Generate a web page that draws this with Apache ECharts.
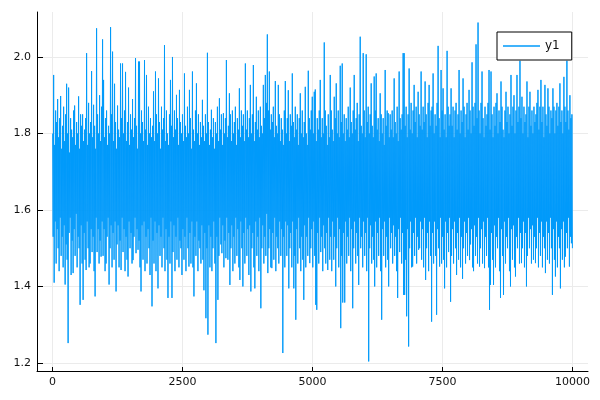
<!DOCTYPE html>
<html><head><meta charset="utf-8">
<script src="https://cdn.jsdelivr.net/npm/echarts@6/dist/echarts.min.js"></script>
<style>html,body{margin:0;padding:0;background:#fff}#c{width:600px;height:400px}</style>
</head><body><div id="c"></div>
<script>
const seriesName = 'y1';
const xTicks = [0, 2500, 5000, 7500, 10000];
const yTicks = [1.2, 1.4, 1.6, 1.8, 2.0];
const xFirst = 1, xLast = 10000;
// upper envelope of the noisy line, one value per pixel column
const hi = [
1.80,1.953,1.77,1.86,1.83,1.89,1.79,1.84,1.898,1.76,
1.82,1.87,1.78,1.85,1.93,1.80,1.92,1.75,1.84,1.81,
1.79,1.86,1.873,1.77,1.83,1.80,1.897,1.76,1.85,1.82,
1.85,1.78,1.81,1.84,2.01,1.77,1.88,1.80,1.83,1.963,
1.79,1.875,1.82,1.76,2.075,1.85,1.80,1.90,1.78,1.87,
2.046,1.94,1.79,1.84,1.86,1.77,1.82,1.80,2.078,1.85,
2.014,1.78,1.93,1.83,1.76,1.873,1.81,1.79,1.983,1.84,
1.983,1.80,1.86,1.961,1.78,1.83,1.92,1.77,1.85,1.81,
1.89,1.79,1.84,1.997,1.82,1.76,1.988,1.988,1.80,1.86,
1.83,1.78,1.992,1.81,1.953,1.77,1.87,1.80,1.84,1.79,
1.82,1.91,1.78,1.962,1.85,1.80,1.944,1.83,1.76,1.87,
1.81,1.84,2.031,1.78,1.86,1.80,1.77,1.85,1.94,1.82,
2.00,1.79,1.86,1.81,1.901,1.84,1.77,1.914,1.83,1.80,
1.85,1.78,1.957,1.82,1.79,1.87,1.80,1.914,1.84,1.76,
1.962,1.81,1.78,1.86,1.931,1.80,1.85,1.77,1.83,1.79,
1.888,1.82,1.78,1.85,1.80,2.011,1.83,1.77,1.81,1.862,
1.79,1.84,1.76,1.83,1.80,1.87,1.78,1.892,1.81,1.85,
1.77,1.853,1.80,1.84,1.992,1.79,1.82,1.905,1.85,1.78,
1.86,1.80,1.83,1.87,1.77,1.84,1.81,1.918,1.79,1.86,
1.82,1.85,1.78,1.983,1.81,1.86,1.79,1.84,1.927,1.80,
1.85,1.979,1.78,1.83,1.896,1.81,1.86,1.79,1.87,1.82,
1.80,1.927,1.84,1.953,1.88,2.059,1.86,1.962,1.81,1.85,
1.83,1.87,1.79,1.937,1.82,1.80,1.927,1.85,1.78,1.84,
1.81,1.77,1.86,1.937,1.80,1.84,1.913,1.78,1.85,1.82,
1.957,1.83,1.79,1.87,1.81,1.85,1.77,1.84,1.905,1.80,
1.86,1.79,1.83,1.922,1.80,1.77,1.964,1.84,1.81,1.86,
1.896,1.80,1.909,1.915,1.78,1.84,1.81,1.86,1.94,1.79,
1.84,1.80,2.038,1.86,1.82,1.77,1.85,1.79,1.953,1.86,
1.81,1.78,1.896,1.84,1.931,1.80,1.86,1.79,1.977,1.83,
1.983,1.80,1.85,1.78,1.84,1.81,1.87,1.79,1.92,1.83,
1.80,1.86,1.953,1.81,1.84,1.88,1.78,1.85,2.053,1.82,
1.80,2.01,1.86,1.79,2.007,1.83,1.87,1.80,1.85,1.931,
1.82,1.79,1.949,1.86,1.957,1.81,1.84,1.78,1.905,1.85,
1.80,1.84,1.77,1.966,1.82,1.86,1.853,1.79,1.85,1.81,
1.86,1.79,1.944,1.83,1.80,1.87,1.78,1.962,1.84,1.81,
1.85,2.01,2.01,1.82,1.87,1.79,1.85,1.97,1.81,1.88,
1.80,1.86,1.927,1.83,1.87,1.79,1.909,1.85,1.82,1.962,
1.81,1.87,1.83,1.936,1.85,1.79,1.88,1.927,1.82,1.86,
1.87,1.957,1.80,1.85,1.82,1.88,2.029,1.84,1.79,1.966,
1.86,1.918,1.81,1.85,1.79,2.016,1.87,1.82,1.85,1.918,
1.82,1.87,1.79,1.86,1.88,1.81,1.85,1.966,1.80,1.86,
1.83,1.944,1.87,1.79,1.85,1.88,1.81,1.914,1.86,1.80,
1.986,1.87,1.82,1.88,2.033,1.84,2.09,1.86,1.80,1.88,
1.962,1.84,1.79,1.87,1.82,1.85,1.88,1.966,1.81,1.962,
1.85,1.79,1.87,1.82,1.88,1.905,1.80,1.86,1.83,1.936,
1.87,1.81,1.79,1.86,1.909,1.83,1.87,1.80,1.85,1.953,
1.82,1.87,1.90,1.80,1.86,1.953,1.83,1.87,1.99,1.84,
1.896,1.80,1.87,1.83,1.85,1.936,1.79,1.87,1.909,1.82,
1.86,1.80,1.87,1.83,1.85,1.88,1.914,1.81,1.87,1.94,
1.83,1.87,1.79,1.927,1.85,1.82,1.918,1.87,1.80,1.86,
1.84,1.918,1.87,1.80,1.86,1.88,1.82,1.87,1.931,1.83,
1.86,1.80,1.948,1.87,1.83,1.99,1.86,1.81,1.90,1.84,
1.85
];
// lower envelope, one value per pixel column
const lo = [
1.53,1.41,1.57,1.46,1.55,1.50,1.44,1.58,1.48,1.53,
1.45,1.56,1.405,1.51,1.47,1.252,1.54,1.58,1.43,1.52,
1.435,1.55,1.48,1.59,1.45,1.53,1.50,1.352,1.56,1.46,
1.365,1.54,1.47,1.443,1.57,1.50,1.45,1.46,1.55,1.49,
1.53,1.44,1.374,1.58,1.49,1.55,1.46,1.52,1.478,1.57,
1.48,1.55,1.44,1.46,1.53,1.58,1.405,1.50,1.56,1.45,
1.54,1.47,1.57,1.387,1.51,1.56,1.45,1.52,1.443,1.58,
1.49,1.55,1.44,1.53,1.47,1.426,1.57,1.50,1.54,1.46,
1.469,1.53,1.58,1.487,1.55,1.496,1.52,1.45,1.387,1.56,
1.47,1.57,1.44,1.53,1.46,1.55,1.50,1.43,1.58,1.348,
1.52,1.46,1.57,1.44,1.54,1.395,1.56,1.48,1.53,1.45,
1.58,1.50,1.44,1.55,1.47,1.37,1.53,1.46,1.57,1.37,
1.49,1.56,1.44,1.53,1.47,1.58,1.45,1.52,1.50,1.43,
1.55,1.47,1.53,1.44,1.58,1.50,1.452,1.54,1.46,1.57,
1.45,1.374,1.53,1.48,1.57,1.44,1.52,1.50,1.46,1.56,
1.47,1.39,1.54,1.317,1.50,1.274,1.56,1.45,1.53,1.44,
1.50,1.57,1.46,1.252,1.53,1.365,1.48,1.58,1.51,1.487,
1.56,1.45,1.52,1.474,1.58,1.47,1.54,1.404,1.50,1.56,
1.44,1.53,1.46,1.58,1.48,1.55,1.45,1.417,1.57,1.50,
1.40,1.54,1.46,1.58,1.48,1.55,1.43,1.56,1.387,1.50,
1.54,1.45,1.395,1.57,1.48,1.53,1.44,1.58,1.343,1.50,
1.56,1.46,1.53,1.48,1.59,1.435,1.50,1.55,1.45,1.448,
1.54,1.47,1.58,1.44,1.53,1.50,1.46,1.57,1.48,1.55,
1.226,1.53,1.45,1.57,1.48,1.56,1.395,1.50,1.54,1.45,
1.57,1.395,1.48,1.313,1.55,1.46,1.58,1.50,1.44,1.53,
1.47,1.365,1.56,1.45,1.53,1.48,1.58,1.461,1.50,1.55,
1.45,1.57,1.48,1.352,1.339,1.54,1.46,1.58,1.49,1.53,
1.44,1.56,1.50,1.46,1.54,1.443,1.58,1.47,1.53,1.44,
1.57,1.47,1.53,1.40,1.50,1.58,1.45,1.55,1.291,1.48,
1.358,1.54,1.358,1.57,1.46,1.53,1.48,1.58,1.44,1.55,
1.343,1.50,1.57,1.46,1.54,1.48,1.404,1.58,1.50,1.53,
1.45,1.57,1.48,1.54,1.44,1.58,1.204,1.50,1.56,1.46,
1.53,1.47,1.40,1.57,1.45,1.54,1.48,1.58,1.44,1.313,
1.55,1.48,1.57,1.45,1.53,1.47,1.40,1.58,1.50,1.54,
1.46,1.56,1.48,1.53,1.44,1.37,1.55,1.49,1.58,1.46,
1.54,1.378,1.378,1.47,1.322,1.55,1.243,1.50,1.57,1.45,
1.452,1.54,1.48,1.58,1.46,1.53,1.496,1.50,1.57,1.47,
1.55,1.45,1.58,1.417,1.50,1.54,1.44,1.57,1.48,1.308,
1.54,1.46,1.57,1.48,1.326,1.55,1.50,1.452,1.58,1.46,
1.53,1.47,1.395,1.57,1.45,1.54,1.49,1.58,1.36,1.48,
1.55,1.46,1.57,1.50,1.43,1.54,1.47,1.58,1.45,1.53,
1.42,1.50,1.57,1.46,1.54,1.48,1.58,1.469,1.51,1.55,
1.45,1.44,1.56,1.48,1.53,1.46,1.58,1.452,1.50,1.55,
1.46,1.57,1.448,1.53,1.48,1.58,1.45,1.339,1.404,1.54,
1.47,1.404,1.56,1.45,1.53,1.50,1.58,1.44,1.37,1.55,
1.48,1.378,1.57,1.46,1.53,1.50,1.58,1.44,1.40,1.55,
1.47,1.56,1.45,1.426,1.53,1.50,1.58,1.46,1.54,1.461,
1.50,1.57,1.45,1.54,1.40,1.48,1.58,1.50,1.55,1.46,
1.56,1.47,1.53,1.461,1.50,1.58,1.45,1.54,1.48,1.57,
1.45,1.53,1.50,1.435,1.57,1.47,1.54,1.46,1.58,1.50,
1.378,1.55,1.47,1.426,1.57,1.45,1.53,1.50,1.395,1.55,
1.47,1.57,1.45,1.478,1.54,1.50,1.58,1.452,1.53,1.513,
1.50
];

const pts = [];
const N = hi.length * 2;
for (let c = 0; c < hi.length; c++) {
  pts.push([xFirst + (2 * c) * (xLast - xFirst) / (N - 1), hi[c]]);
  pts.push([xFirst + (2 * c + 1) * (xLast - xFirst) / (N - 1), lo[c]]);
}

const FONT = 'DejaVu Sans';
const chart = echarts.init(document.getElementById('c'), null, { renderer: 'canvas' });
chart.setOption({
  animation: false,
  backgroundColor: '#fff',
  grid: { left: 37, top: 12, right: 12, bottom: 29, containLabel: false },
  xAxis: {
    type: 'value', min: -300, max: 10300,
    axisLine: { show: true, onZero: false, lineStyle: { color: '#000', width: 1 } },
    axisTick: { show: true, inside: true, length: 4, customValues: xTicks, lineStyle: { color: '#000' } },
    axisLabel: { customValues: xTicks, color: '#111', fontFamily: FONT, fontSize: 11, margin: 6,
      showMinLabel: true, showMaxLabel: true, formatter: v => String(v) },
    splitLine: { show: true, lineStyle: { color: '#ebebeb', width: 1 } }
  },
  yAxis: {
    type: 'value', min: 1.179, max: 2.1176,
    axisLine: { show: true, onZero: false, lineStyle: { color: '#000', width: 1 } },
    axisTick: { show: true, inside: true, length: 6, customValues: yTicks, lineStyle: { color: '#000' } },
    axisLabel: { customValues: yTicks, color: '#111', fontFamily: FONT, fontSize: 11, margin: 6,
      formatter: v => v.toFixed(1) },
    splitLine: { show: true, lineStyle: { color: '#ebebeb', width: 1 } }
  },
  legend: {
    left: 497, top: 32,
    padding: [8, 12, 8, 6],
    itemGap: 5,
    itemWidth: 37, itemHeight: 1.5,
    borderColor: '#000', borderWidth: 1, backgroundColor: '#fff',
    textStyle: { color: '#111', fontFamily: FONT, fontSize: 12 },
    data: [{ name: seriesName, icon: 'rect' }]
  },
  series: [{
    name: seriesName, type: 'line', data: pts,
    showSymbol: false, symbol: 'none', clip: true, sampling: null,
    lineStyle: { color: '#009AFA', width: 1 },
    itemStyle: { color: '#009AFA' },
    z: 2
  }]
});
</script></body></html>
